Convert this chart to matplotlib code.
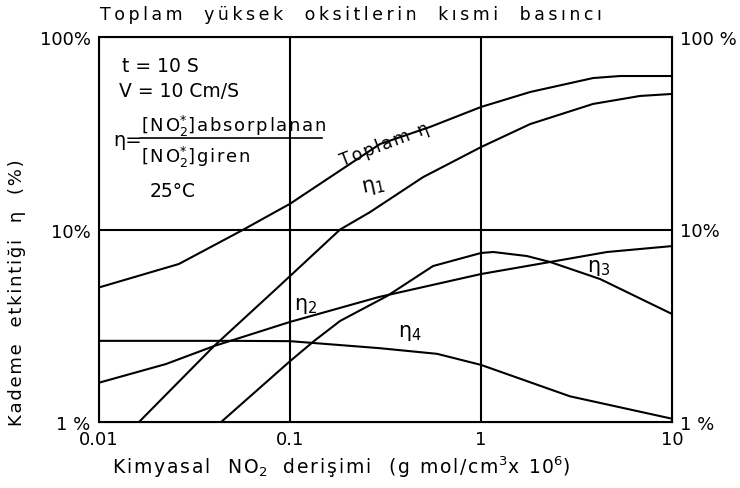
import numpy as np
import matplotlib
matplotlib.use("Agg")
import matplotlib.pyplot as plt

# Kademe etkinlikleri (%) - NO2 derisimine gore
toplam_x = [0.01, 0.0262, 0.0561, 0.1, 0.296, 0.541, 1.0, 1.81, 3.86, 5.34, 10]
toplam_y = [5.0, 6.62, 9.9, 13.6, 27.8, 34.1, 43.3, 51.8, 61.2, 62.7, 62.7]

eta1_x = [0.0162, 0.040, 0.0846, 0.183, 0.262, 0.497, 1.0, 1.81, 3.86, 6.8, 10]
eta1_y = [1.0, 2.48, 4.91, 10.0, 12.3, 18.7, 26.8, 35.3, 44.9, 49.4, 50.6]

eta2_x = [0.01, 0.0224, 0.040, 0.1, 0.292, 1.0, 2.30, 4.57, 10]
eta2_y = [1.60, 2.0, 2.48, 3.31, 4.46, 5.87, 6.78, 7.64, 8.2]

eta3_x = [0.0436, 0.1, 0.134, 0.183, 0.322, 0.561, 1.0, 1.16, 1.74, 2.30, 4.2, 10]
eta3_y = [1.0, 2.07, 2.64, 3.35, 4.51, 6.46, 7.55, 7.64, 7.28, 6.78, 5.53, 3.64]

eta4_x = [0.01, 0.05, 0.1, 0.292, 0.589, 1.0, 2.92, 10]
eta4_y = [2.64, 2.64, 2.63, 2.42, 2.26, 1.98, 1.36, 1.04]

x_ticks = [0.01, 0.1, 1, 10]
x_ticklabels = ["0.01", "0.1", "1", "10"]
y_ticks = [1, 10, 100]
y_ticklabels_left = ["1 %", "10%", "100%"]
y_ticklabels_right = ["1 %", "10%", "100 %"]

W, H = 740, 489
fig = plt.figure(figsize=(W / 100, H / 100), dpi=100)
ax = fig.add_axes([99 / W, 1 - 423 / H, (672 - 99) / W, (423 - 38) / H])

lw = 1.5
for xs, ys in [(toplam_x, toplam_y), (eta1_x, eta1_y), (eta2_x, eta2_y),
               (eta3_x, eta3_y), (eta4_x, eta4_y)]:
    ax.plot(xs, ys, color="black", lw=lw, solid_capstyle="round")

ax.set_xscale("log")
ax.set_yscale("log")
ax.set_xlim(0.01, 10)
ax.set_ylim(1, 100)

# izgara: yalnizca 0.1, 1 ve %10 cizgileri
for xv in [0.1, 1]:
    ax.axvline(xv, color="black", lw=lw)
ax.axhline(10, color="black", lw=lw)

for sp in ax.spines.values():
    sp.set_linewidth(lw)

ax.set_xticks(x_ticks)
ax.set_xticklabels(x_ticklabels)
ax.set_yticks(y_ticks)
ax.set_yticklabels(y_ticklabels_left)
ax.minorticks_off()
ax.tick_params(length=0, labelsize=13, pad=6)

ax2 = ax.twinx()
ax2.set_yscale("log")
ax2.set_ylim(1, 100)
ax2.set_yticks(y_ticks)
ax2.set_yticklabels(y_ticklabels_right)
ax2.minorticks_off()
ax2.tick_params(length=0, labelsize=13, pad=6)


def fx(px):
    return px / W


def fy(py):
    return 1 - py / H


def spaced(s, sep="\u200a"):
    # harfler arasina ince bosluk (mathtext kisimlarina dokunmadan)
    parts = s.split("$")
    for i in range(0, len(parts), 2):
        parts[i] = sep.join(parts[i])
    return "$".join(parts)


fig.text(fx(351), fy(15), spaced("Toplam  yüksek  oksitlerin  kısmi  basıncı", "\u2009"),
         ha="center", va="center", fontsize=12.5)
fig.text(fx(112), fy(467), spaced(r"Kimyasal  NO$_2$  derişimi  (g mol/cm$^3$x 10$^6$)"),
         ha="left", va="center", fontsize=13.5)
fig.text(fx(17), fy(293), spaced("Kademe  etkintiği  η  (%)"), rotation=90,
         ha="center", va="center", fontsize=13)

# parametreler
fig.text(fx(122), fy(66), "t = 10 S", ha="left", va="center", fontsize=13.5)
fig.text(fx(119), fy(92), "V = 10 Cm/S", ha="left", va="center", fontsize=13.5)
fig.text(fx(113), fy(140), "η=", ha="left", va="center", fontsize=14)
fig.text(fx(141), fy(126), spaced(r"[NO$_2^{*}$]absorplanan"), ha="left", va="center", fontsize=13)
fig.text(fx(141), fy(157), spaced(r"[NO$_2^{*}$]giren"), ha="left", va="center", fontsize=13)
fig.add_artist(plt.Line2D([fx(140), fx(322)], [fy(139), fy(139)], color="black", lw=1.2))
fig.text(fx(150), fy(192), "25°C", ha="left", va="center", fontsize=13.5)

# egri etiketleri
fig.text(fx(385), fy(145), spaced("Toplam η"), rotation=21, ha="center", va="center", fontsize=12.5)
fig.text(fx(373), fy(187), r"η$_1$", rotation=12, ha="center", va="center", fontsize=15)
fig.text(fx(306), fy(306), r"η$_2$", ha="center", va="center", fontsize=15)
fig.text(fx(599), fy(268), r"η$_3$", ha="center", va="center", fontsize=15)
fig.text(fx(410), fy(333), r"η$_4$", ha="center", va="center", fontsize=15)

fig.savefig("out.png", dpi=100)
